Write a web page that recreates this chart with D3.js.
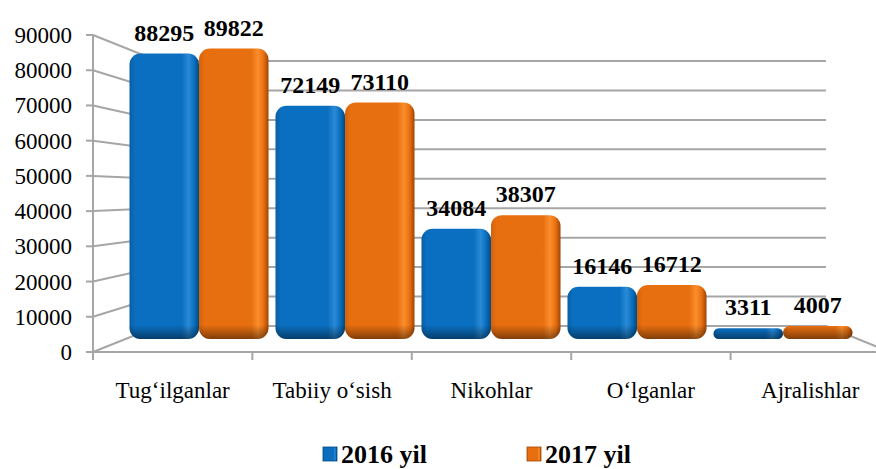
<!DOCTYPE html>
<html>
<head>
<meta charset="utf-8">
<script src="https://cdn.jsdelivr.net/npm/d3@7"></script>
</head>
<body style="margin:0">
<svg id="chart" width="876" height="469"></svg>
<script>
// Data
const categories = ['Tug‘ilganlar', 'Tabiiy o‘sish', 'Nikohlar', 'O‘lganlar', 'Ajralishlar'];
const series = ['2016 yil', '2017 yil'];
const values2016 = [88295, 72149, 34084, 16146, 3311];
const values2017 = [89822, 73110, 38307, 16712, 4007];
const yTicks = [0, 10000, 20000, 30000, 40000, 50000, 60000, 70000, 80000, 90000];

const svg = d3.select('#chart');
const width = 876;
const serif = "'Liberation Serif'";

// Planes of the fake 3D box: front edge, back wall and the bar plane in between
const yFront = d3.scaleLinear().domain([0, 90000]).range([352, 35]);
const yBack = d3.scaleLinear().domain([0, 90000]).range([326, 61]);
const yBar = d3.scaleLinear().domain([0, 90000]).range([339, 48]);

const xFront = d3.scaleBand().domain(categories).range([93, 890]);
const xBar = d3.scaleBand().domain(categories).range([126, 856]);
const xSeries = d3.scaleBand().domain(series).range([0, xBar.bandwidth()]).paddingOuter(0.05);

const backLeft = 158, backRight = 826;
const gridColor = '#a6a6a6';

const colors = {
  '2016 yil': { base: '#0a6fc0', light: '#2a8ad6', dark: '#04497f', edge: '#0a5fa6' },
  '2017 yil': { base: '#e86f10', light: '#fb8e2c', dark: '#9e4606', edge: '#d3620c' },
};

const defs = svg.append('defs');

// Horizontal shading for each series
series.forEach((s, i) => {
  const c = colors[s];
  const g = defs.append('linearGradient')
    .attr('id', 'hg' + i)
    .attr('x1', 0).attr('x2', 1).attr('y1', 0).attr('y2', 0);
  g.append('stop').attr('offset', '0%').attr('stop-color', c.edge);
  g.append('stop').attr('offset', '8%').attr('stop-color', c.base);
  g.append('stop').attr('offset', '75%').attr('stop-color', c.base);
  g.append('stop').attr('offset', '85%').attr('stop-color', c.light);
  g.append('stop').attr('offset', '93%').attr('stop-color', c.base);
  g.append('stop').attr('offset', '100%').attr('stop-color', c.dark);
});

// Walls: side wall diagonals + back wall gridlines
const grid = svg.append('g').attr('fill', 'none').attr('stroke', gridColor).attr('stroke-width', 2);
grid.selectAll('path.grid')
  .data(yTicks)
  .enter().append('path')
  .attr('class', 'grid')
  .attr('d', (t) => 'M93,' + yFront(t) + 'L' + backLeft + ',' + yBack(t) + 'L' + backRight + ',' + yBack(t));

// Floor front edge and right edge
grid.append('path')
  .attr('d', 'M93,' + yFront(0) + 'L' + width + ',' + yFront(0));
grid.append('path')
  .attr('d', 'M' + backRight + ',' + yBack(0) + 'L' + 890 + ',' + yFront(0));

// Front value axis
const axisG = svg.append('g').attr('stroke', gridColor).attr('stroke-width', 2);
axisG.append('line').attr('x1', 93).attr('x2', 93).attr('y1', yFront(90000)).attr('y2', yFront(0) + 8);
axisG.selectAll('line.ytick')
  .data(yTicks)
  .enter().append('line')
  .attr('class', 'ytick')
  .attr('x1', 86).attr('x2', 93)
  .attr('y1', (t) => yFront(t)).attr('y2', (t) => yFront(t));
axisG.selectAll('line.xtick')
  .data(categories.slice(1))
  .enter().append('line')
  .attr('class', 'xtick')
  .attr('x1', (c) => xFront(c)).attr('x2', (c) => xFront(c))
  .attr('y1', yFront(0)).attr('y2', yFront(0) + 8);

svg.append('g').selectAll('text')
  .data(yTicks)
  .enter().append('text')
  .attr('x', 72)
  .attr('y', (t) => yFront(t) + 8)
  .attr('text-anchor', 'end')
  .style('font-family', serif)
  .attr('font-size', 23)
  .attr('fill', '#000')
  .text((t) => t);

// Category labels
svg.append('g').selectAll('text')
  .data(categories)
  .enter().append('text')
  .attr('x', (c) => xFront(c) + xFront.bandwidth() / 2)
  .attr('y', 398)
  .attr('text-anchor', 'middle')
  .style('font-family', serif)
  .attr('font-size', 23)
  .attr('fill', '#000')
  .text((c) => c);

// Bars
const barData = [];
categories.forEach((c, i) => {
  barData.push({ cat: c, s: series[0], si: 0, v: values2016[i] });
  barData.push({ cat: c, s: series[1], si: 1, v: values2017[i] });
});

barData.forEach((d, i) => {
  d.x = xBar(d.cat) + xSeries(d.s);
  d.w = xSeries.bandwidth();
  d.y = yBar(d.v);
  d.h = yBar(0) - yBar(d.v);
  d.id = 'vs' + i;
  const vg = defs.append('linearGradient')
    .attr('id', d.id)
    .attr('gradientUnits', 'userSpaceOnUse')
    .attr('x1', 0).attr('x2', 0)
    .attr('y1', yBar(0) - Math.min(14, d.h)).attr('y2', yBar(0));
  vg.append('stop').attr('offset', '0%').attr('stop-color', '#000').attr('stop-opacity', 0);
  vg.append('stop').attr('offset', '100%').attr('stop-color', '#000').attr('stop-opacity', 0.45);
});

const bars = svg.append('g').selectAll('g.bar')
  .data(barData)
  .enter().append('g')
  .attr('class', 'bar');

bars.append('rect')
  .attr('x', (d) => d.x).attr('y', (d) => d.y)
  .attr('width', (d) => d.w).attr('height', (d) => d.h)
  .attr('rx', (d) => Math.min(11, d.h / 2)).attr('ry', (d) => Math.min(11, d.h / 2))
  .attr('fill', (d) => 'url(#hg' + d.si + ')');

bars.append('rect')
  .attr('x', (d) => d.x).attr('y', (d) => d.y)
  .attr('width', (d) => d.w).attr('height', (d) => d.h)
  .attr('rx', (d) => Math.min(11, d.h / 2)).attr('ry', (d) => Math.min(11, d.h / 2))
  .attr('fill', (d) => 'url(#' + d.id + ')');

// Value labels
svg.append('g').selectAll('text')
  .data(barData)
  .enter().append('text')
  .attr('x', (d) => d.x + d.w / 2)
  .attr('y', (d) => d.y - 13)
  .attr('text-anchor', 'middle')
  .style('font-family', serif)
  .attr('font-size', 24)
  .attr('font-weight', 'bold')
  .attr('fill', '#000')
  .text((d) => d.v);

// Legend
const legendX = [323, 527];
const legend = svg.append('g').selectAll('g')
  .data(series)
  .enter().append('g')
  .attr('transform', (s, i) => 'translate(' + legendX[i] + ',447)');
legend.append('rect')
  .attr('width', 14).attr('height', 14)
  .attr('fill', (s, i) => 'url(#hg' + i + ')')
  .attr('stroke', (s) => colors[s].dark).attr('stroke-width', 0.8);
legend.append('text')
  .attr('x', 18).attr('y', 16)
  .style('font-family', serif)
  .attr('font-size', 26)
  .attr('font-weight', 'bold')
  .attr('fill', '#000')
  .text((s) => s);
</script>
</body>
</html>
